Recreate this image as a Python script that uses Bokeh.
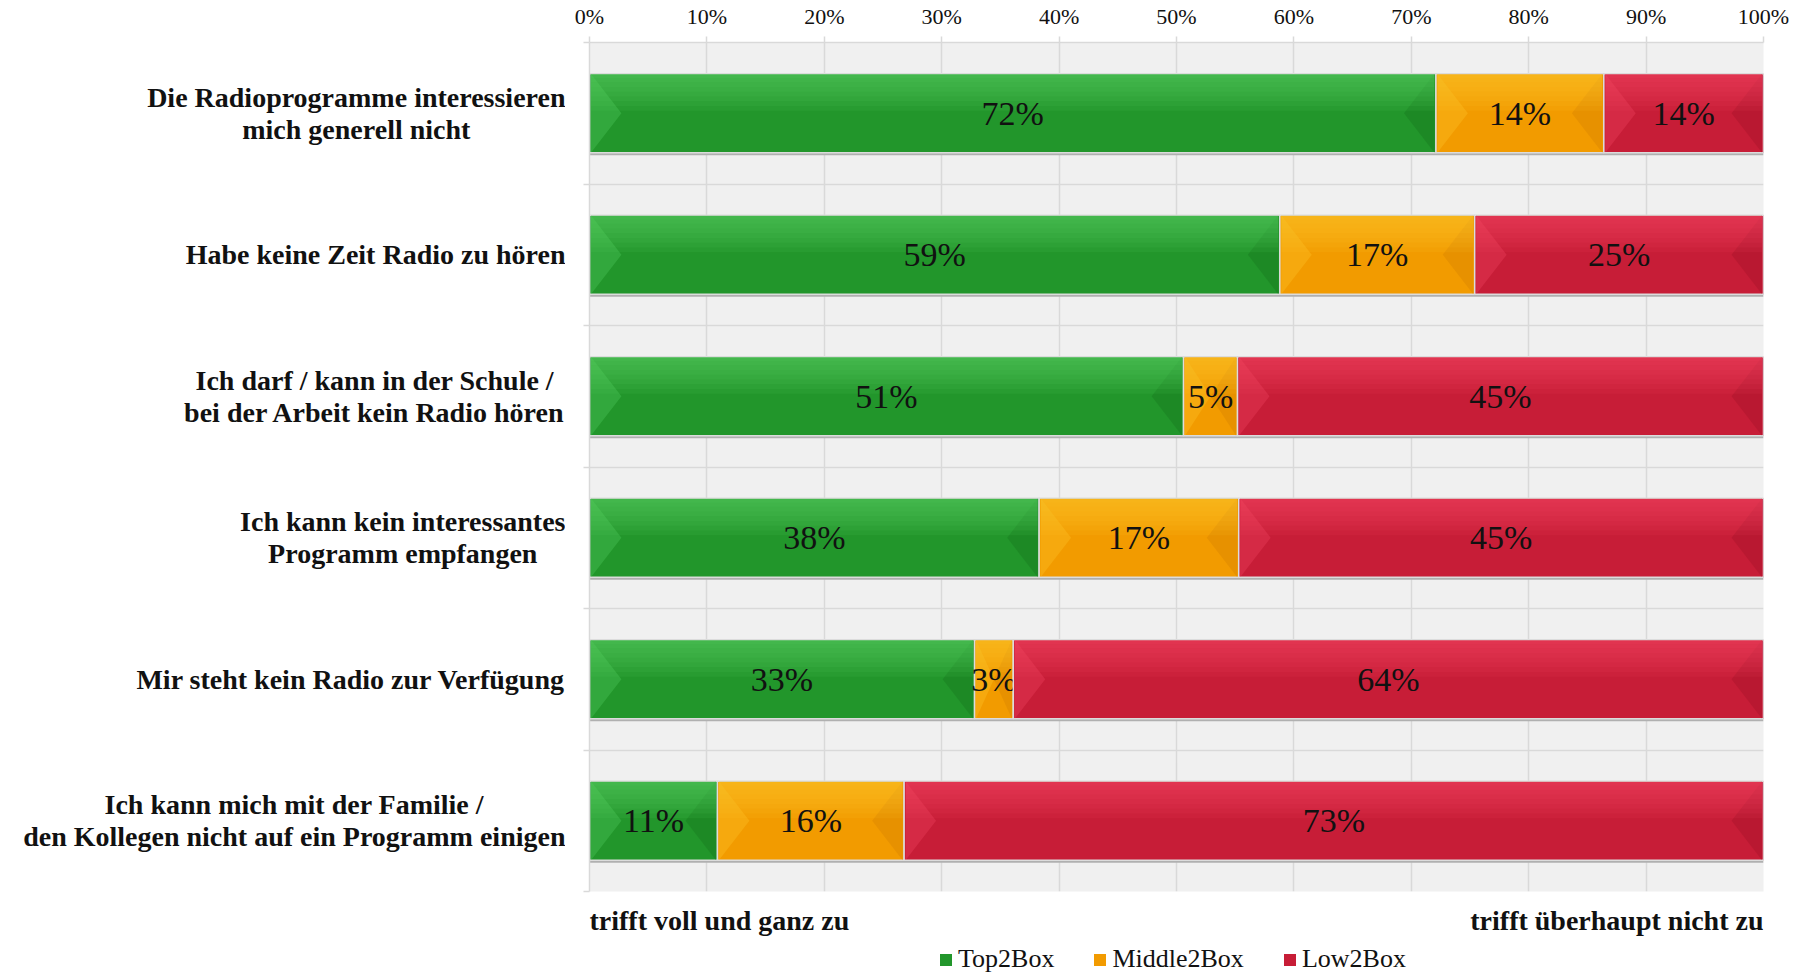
from bokeh.plotting import figure
from bokeh.layouts import column, row
from bokeh.models import (Range1d, FixedTicker, PrintfTickFormatter,
                          Legend, LegendItem, ColumnDataSource)
from bokeh.core.properties import value
from bokeh.embed import file_html
from bokeh.resources import INLINE

categories = [
    "Die Radioprogramme interessieren\nmich generell nicht",
    "Habe keine Zeit Radio zu hören",
    "Ich darf / kann in der Schule /\nbei der Arbeit kein Radio hören",
    "Ich kann kein interessantes\nProgramm empfangen",
    "Mir steht kein Radio zur Verfügung",
    "Ich kann mich mit der Familie /\nden Kollegen nicht auf ein Programm einigen",
]
series = ["Top2Box", "Middle2Box", "Low2Box"]
top2box = [72.1, 58.8, 50.6, 38.3, 32.8, 10.9]
middle2box = [14.3, 16.6, 4.6, 17.0, 3.3, 15.9]
low2box = [13.6, 24.6, 44.8, 44.7, 63.9, 73.2]
x_ticks = [0, 10, 20, 30, 40, 50, 60, 70, 80, 90, 100]
caption_left = "trifft voll und ganz zu"
caption_right = "trifft überhaupt nicht zu"

SERIF = "Liberation Serif"
mid_colors = ["#22962b", "#f29b00", "#c71d37"]
light_colors = ["#5ad466", "#ffcb2e", "#f44a66"]
dark_colors = ["#187a20", "#d98600", "#a8142b"]

W = 1803
LABEL_W = 565
MAIN_H = 895
n = len(categories)
ys = [n - 0.5 - i for i in range(n)]
vals = [top2box, middle2box, low2box]
lefts, rights = [], []
acc = [0.0] * n
for v in vals:
    l = list(acc)
    r = [a + b for a, b in zip(acc, v)]
    lefts.append(l)
    rights.append(r)
    acc = r

# ---- left strip: category labels
pl = figure(width=LABEL_W, height=MAIN_H, output_backend="svg", toolbar_location=None,
            x_range=Range1d(0, 1), y_range=Range1d(0, n),
            min_border_left=0, min_border_right=0, min_border_top=42, min_border_bottom=4)
pl.axis.visible = False
pl.grid.visible = False
pl.outline_line_color = None
pl.text(x=[pl.x_range.end] * n, y=ys, text=categories, anchor="center_right",
        text_align="center", text_baseline="middle", text_line_height=1.02,
        text_font=value(SERIF), text_font_style="bold", text_font_size="28px",
        text_color="#111111")

# ---- main chart
p = figure(width=W - LABEL_W, height=MAIN_H, output_backend="svg", toolbar_location=None,
           x_range=Range1d(0, 100), y_range=Range1d(0, n),
           x_axis_location="above",
           min_border_left=24, min_border_right=40, min_border_top=42, min_border_bottom=4)
p.background_fill_color = "#f0f0f0"
p.border_fill_color = "white"
p.outline_line_color = None

p.xgrid.ticker = FixedTicker(ticks=x_ticks)
p.xgrid.grid_line_color = "#d9d9d9"
p.xgrid.grid_line_width = 1.5
p.ygrid.ticker = FixedTicker(ticks=list(range(n + 1)))
p.ygrid.grid_line_color = "#d9d9d9"
p.ygrid.grid_line_width = 1.5

xa = p.xaxis[0]
xa.ticker = FixedTicker(ticks=x_ticks)
xa.formatter = PrintfTickFormatter(format="%d%%")
xa.axis_line_color = "#d9d9d9"
xa.axis_line_width = 1.5
xa.major_tick_line_color = "#d9d9d9"
xa.major_tick_line_width = 1.5
xa.major_tick_out = 6
xa.major_tick_in = 0
xa.minor_tick_line_color = None
xa.major_label_text_font = SERIF
xa.major_label_text_font_size = "22px"
xa.major_label_text_color = "#111111"
xa.major_label_standoff = 8

ya = p.yaxis[0]
ya.ticker = FixedTicker(ticks=[], minor_ticks=list(range(n + 1)))
ya.axis_line_color = "#d9d9d9"
ya.axis_line_width = 1.5
ya.major_tick_line_color = None
ya.major_tick_out = 0
ya.major_tick_in = 0
ya.minor_tick_line_color = "#d9d9d9"
ya.minor_tick_line_width = 1.5
ya.minor_tick_out = 6
ya.minor_tick_in = 0
ya.major_label_text_font_size = "0px"

H = 0.56
shadow_off = 0.017
p.hbar(y=[y - shadow_off for y in ys], left=[0] * n, right=rights[-1], height=H,
       fill_color="#b0b0b0", line_color=None)

BEVEL = 2.6  # bevel depth in % units
for k in range(3):
    src = ColumnDataSource(dict(y=ys, left=lefts[k], right=rights[k]))
    p.hbar(y="y", left="left", right="right", height=H, source=src,
           fill_color=mid_colors[k], line_color="#dcdcdc", line_width=1.5)
    inner_l = [a + 0.12 for a in lefts[k]]
    inner_r = [b - 0.12 for b in rights[k]]
    # end bevels: lighter wedge at the left end, darker wedge at the right end
    lx, ly, rx, ry = [], [], [], []
    for y, a, b in zip(ys, inner_l, inner_r):
        d = min(BEVEL, (b - a) / 2)
        lx.append([a, a + d, a])
        ly.append([y + H / 2, y, y - H / 2])
        rx.append([b, b - d, b])
        ry.append([y + H / 2, y, y - H / 2])
    p.patches(xs=lx, ys=ly, fill_color=light_colors[k], fill_alpha=0.3, line_color=None)
    p.patches(xs=rx, ys=ry, fill_color=dark_colors[k], fill_alpha=0.45, line_color=None)
    # soft top highlight (gradient approximation)
    for frac in [0.46, 0.40, 0.34, 0.28, 0.22, 0.16, 0.10, 0.05]:
        band = H * frac
        p.hbar(y=[y + H / 2 - band / 2 - 0.005 for y in ys], left=inner_l, right=inner_r,
               height=band, fill_color=light_colors[k], fill_alpha=0.11, line_color=None)
    p.text(x=[(a + b) / 2 for a, b in zip(lefts[k], rights[k])], y=ys,
           text=[f"{v:.0f}%" for v in vals[k]],
           text_align="center", text_baseline="middle",
           text_font=value(SERIF), text_font_size="34px", text_color="#111111")

# ---- bottom strip: captions and legend
p2 = figure(width=W, height=974 - MAIN_H, output_backend="svg", toolbar_location=None,
            x_range=Range1d(0, 100), y_range=Range1d(-1, 0),
            min_border_left=589, min_border_right=40, min_border_top=0, min_border_bottom=0)
p2.axis.visible = False
p2.grid.visible = False
p2.outline_line_color = None
p2.background_fill_color = "white"

p2.text(x=[x_ticks[0]], y=[-0.32], text=[caption_left], text_align="left", text_baseline="middle",
        text_font=value(SERIF), text_font_style="bold", text_font_size="28px", text_color="#111111")
p2.text(x=[x_ticks[-1]], y=[-0.32], text=[caption_right], text_align="right", text_baseline="middle",
        text_font=value(SERIF), text_font_style="bold", text_font_size="28px", text_color="#111111")

# legend swatches: hidden copies of the series (only their legend glyph shows)
swatches = []
for k in range(3):
    swatches.append(p2.hbar(y=ys, left=lefts[k], right=rights[k], height=H,
                            fill_color=mid_colors[k], line_color=None, visible=False))
legend = Legend(items=[LegendItem(label=s, renderers=[r]) for s, r in zip(series, swatches)],
                orientation="horizontal", location=(349, 0),
                padding=0, margin=0, spacing=38, label_standoff=5,
                glyph_width=15, glyph_height=15,
                inactive_fill_alpha=0,
                label_text_font=SERIF, label_text_font_size="26px", label_text_color="#111111",
                background_fill_alpha=0, border_line_color=None)
p2.add_layout(legend)

layout = column(row(pl, p, spacing=0), p2, spacing=0)
open("out.html", "w").write(file_html(layout, INLINE))
